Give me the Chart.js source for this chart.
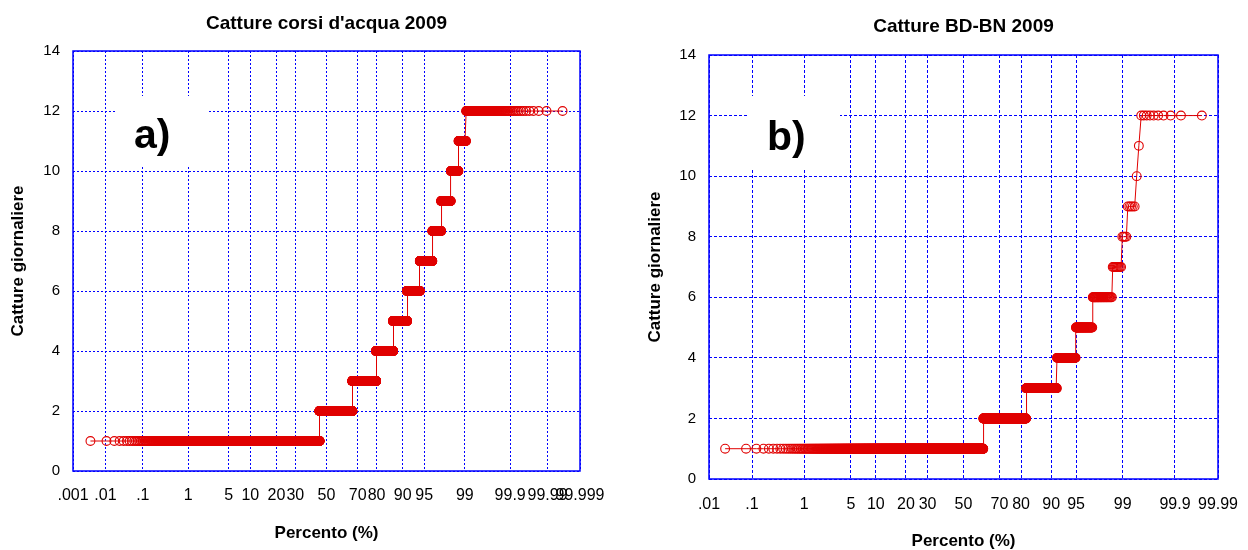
<!DOCTYPE html>
<html>
<head>
<meta charset="utf-8">
<script src="https://cdn.jsdelivr.net/npm/chart.js@4/dist/chart.umd.min.js"></script>
<style>
  body { margin: 0; background: #fff; }
  #wrap { position: relative; width: 1248px; height: 550px; }
  canvas { position: absolute; top: 0; }
</style>
</head>
<body>
<div id="wrap">
  <canvas id="chartA" width="620" height="550" style="left:0"></canvas>
  <canvas id="chartB" width="628" height="550" style="left:620px"></canvas>
</div>
<script>
const captureValues = [1, 2, 3, 4, 5, 6, 7, 8, 9, 10, 11, 12];
const countsA = [6342, 3010, 1820, 988, 612, 412, 291, 148, 121, 71, 53, 132];
const countsB = [1240, 416, 190, 72, 42, 30, 9, 4, 5, 1, 1, 10];

// probability axis ticks (percent)
const ticksA = [0.001, 0.01, 0.1, 1, 5, 10, 20, 30, 50, 70, 80, 90, 95, 99, 99.9, 99.99, 99.999];
const labelsA = ['.001', '.01', '.1', '1', '5', '10', '20', '30', '50', '70', '80', '90', '95', '99', '99.9', '99.99', '99.999'];
const ticksB = [0.01, 0.1, 1, 5, 10, 20, 30, 50, 70, 80, 90, 95, 99, 99.9, 99.99];
const labelsB = ['.01', '.1', '1', '5', '10', '20', '30', '50', '70', '80', '90', '95', '99', '99.9', '99.99'];
const yTicks = [0, 2, 4, 6, 8, 10, 12, 14];

const RED = '#e00000';
const BLUE = '#0000ff';
Chart.defaults.font.family = "'Liberation Sans', Arial, sans-serif";
Chart.defaults.color = '#000';

// inverse normal cdf (Acklam)
function probit(p) {
  const a = [-39.69683028665376, 220.9460984245205, -275.9285104469687, 138.3577518672690, -30.66479806614716, 2.506628277459239];
  const b = [-54.47609879822406, 161.5858368580409, -155.6989798598866, 66.80131188771972, -13.28068155288572];
  const c = [-0.007784894002430293, -0.3223964580411365, -2.400758277161838, -2.549732539343734, 4.374664141464968, 2.938163982698783];
  const d = [0.007784695709041462, 0.3224671290700398, 2.445134137142996, 3.754408661907416];
  const pl = 0.02425;
  let q, r;
  if (p < pl) {
    q = Math.sqrt(-2 * Math.log(p));
    return (((((c[0]*q+c[1])*q+c[2])*q+c[3])*q+c[4])*q+c[5]) / ((((d[0]*q+d[1])*q+d[2])*q+d[3])*q+1);
  }
  if (p > 1 - pl) {
    q = Math.sqrt(-2 * Math.log(1 - p));
    return -(((((c[0]*q+c[1])*q+c[2])*q+c[3])*q+c[4])*q+c[5]) / ((((d[0]*q+d[1])*q+d[2])*q+d[3])*q+1);
  }
  q = p - 0.5; r = q * q;
  return (((((a[0]*r+a[1])*r+a[2])*r+a[3])*r+a[4])*r+a[5])*q / (((((b[0]*r+b[1])*r+b[2])*r+b[3])*r+b[4])*r+1);
}

// sorted records -> (i-0.5)/n plotting positions on the normal scale
function buildPoints(counts) {
  const n = counts.reduce((s, c) => s + c, 0);
  const pts = [];
  let i = 0;
  counts.forEach((c, k) => {
    for (let j = 0; j < c; j++) {
      pts.push({ x: probit((i + 0.5) / n), y: captureValues[k] });
      i++;
    }
  });
  return pts;
}

// frame + white patch with the panel letter
const panelDecor = {
  id: 'panelDecor',
  beforeDatasetsDraw(chart, args, opts) {
    const { ctx, chartArea: ca } = chart;
    ctx.save();
    ctx.fillStyle = '#fff';
    ctx.fillRect(opts.box[0], opts.box[1], opts.box[2], opts.box[3]);
    ctx.fillStyle = '#000';
    ctx.font = "bold 41px 'Liberation Sans', Arial, sans-serif";
    ctx.textBaseline = 'alphabetic';
    ctx.fillText(opts.letter, opts.textX, opts.textY);
    ctx.strokeStyle = BLUE;
    ctx.lineWidth = 1.5;
    ctx.strokeRect(ca.left, ca.top, ca.right - ca.left, ca.bottom - ca.top);
    ctx.restore();
  }
};

function makeChart(id, cfg) {
  const ticksZ = cfg.ticks.map(p => probit(p / 100));
  return new Chart(document.getElementById(id), {
    type: 'scatter',
    data: {
      datasets: [{
        data: buildPoints(cfg.counts),
        showLine: true,
        borderColor: RED,
        borderWidth: 1,
        pointRadius: 4.4,
        pointBorderWidth: 1.1,
        pointBorderColor: RED,
        pointBackgroundColor: 'rgba(0,0,0,0)',
        pointHoverRadius: 4.4
      }]
    },
    options: {
      responsive: false,
      animation: false,
      events: [],
      layout: { padding: cfg.padding },
      plugins: {
        legend: { display: false },
        tooltip: { enabled: false },
        title: {
          display: true,
          text: cfg.title,
          fullSize: false,
          font: { size: 19, weight: 'bold' },
          padding: cfg.titlePad
        },
        panelDecor: cfg.decor
      },
      scales: {
        x: {
          type: 'linear',
          min: ticksZ[0],
          max: ticksZ[ticksZ.length - 1],
          afterBuildTicks: s => { s.ticks = ticksZ.map(v => ({ value: v })); },
          afterFit: s => {
            s.height = cfg.xHeight;
            s.paddingLeft = 0;
            s.paddingRight = 0;
          },
          ticks: {
            autoSkip: false,
            maxRotation: 0,
            minRotation: 0,
            padding: cfg.xTickPad,
            font: { size: 16 },
            callback: (v, i) => cfg.labels[i]
          },
          grid: { color: BLUE, lineWidth: 1, drawTicks: false },
          border: { display: false, dash: cfg.dash },
          title: {
            display: true,
            text: 'Percento (%)',
            font: { size: 17, weight: 'bold', lineHeight: 1 },
            padding: { top: 0, bottom: cfg.xTitlePad }
          }
        },
        y: {
          min: 0,
          max: 14,
          afterBuildTicks: s => { s.ticks = yTicks.map(v => ({ value: v })); },
          afterFit: s => {
            s.width = cfg.yWidth;
            s.paddingTop = 0;
            s.paddingBottom = 0;
          },
          ticks: { padding: 13, font: { size: 15 } },
          grid: { color: BLUE, lineWidth: 1, drawTicks: false },
          border: { display: false, dash: cfg.dash },
          title: {
            display: true,
            text: 'Catture giornaliere',
            font: { size: 17, weight: 'bold', lineHeight: 1.2 },
            padding: { top: cfg.yTitlePad, bottom: 0 }
          }
        }
      }
    },
    plugins: [panelDecor]
  });
}

makeChart('chartA', {
  title: "Catture corsi d'acqua 2009",
  counts: countsA,
  ticks: ticksA,
  labels: labelsA,
  padding: { left: 0, right: 40, top: 0, bottom: 0 },
  titlePad: { top: 12.6, bottom: 15.6 },
  yWidth: 73,
  xHeight: 79,
  xTickPad: 15,
  xTitlePad: 8,
  yTitlePad: 8.5,
  dash: [2, 2],
  decor: { letter: 'a)', box: [115, 96, 93, 69], textX: 134, textY: 148 }
});

makeChart('chartB', {
  title: 'Catture BD-BN 2009',
  counts: countsB,
  ticks: ticksB,
  labels: labelsB,
  padding: { left: 0, right: 30, top: 0, bottom: 0 },
  titlePad: { top: 15.6, bottom: 16.6 },
  yWidth: 89,
  xHeight: 71,
  xTickPad: 16,
  xTitlePad: 0,
  yTitlePad: 25,
  dash: [3, 2],
  decor: { letter: 'b)', box: [128, 96, 92, 72], textX: 147, textY: 150 }
});
</script>
</body>
</html>
